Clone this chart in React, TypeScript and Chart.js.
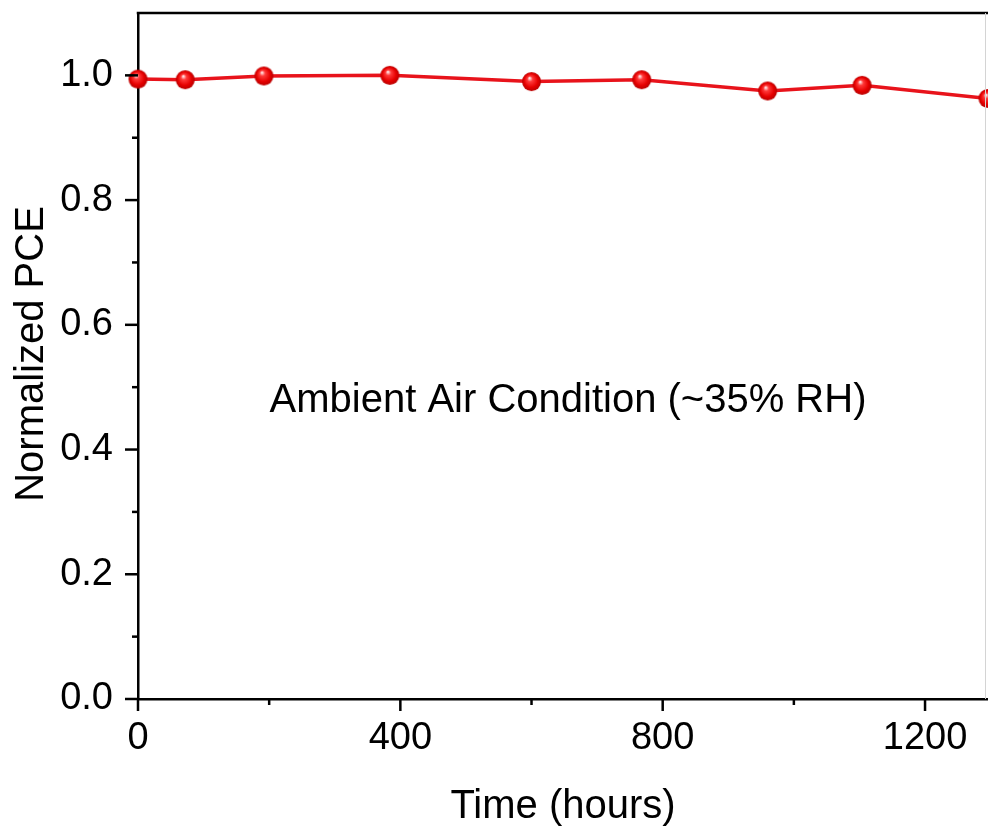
import React, { useEffect, useRef } from 'react';
import { Chart, registerables } from 'chart.js';

Chart.register(...registerables);

// ---- data ----
const hours = [0, 72, 192, 384, 600, 768, 960, 1104, 1296];
const normalizedPCE = [0.994, 0.993, 0.999, 1.0, 0.99, 0.993, 0.975, 0.984, 0.963];
const xTickValues = [0, 200, 400, 600, 800, 1000, 1200];
const xLabelValues = [0, 400, 800, 1200];
const yTickValues = [0, 0.1, 0.2, 0.3, 0.4, 0.5, 0.6, 0.7, 0.8, 0.9, 1.0];
const yLabelValues = [0, 0.2, 0.4, 0.6, 0.8, 1.0];
const xTitle = 'Time (hours)';
const yTitle = 'Normalized PCE';
const annotationText = 'Ambient Air Condition (~35% RH)';

const FONT = '"Liberation Sans", Arial, Helvetica, sans-serif';
const RED = '#e8131b';

function makeSphere(): HTMLCanvasElement {
  const size = 21;
  const c = document.createElement('canvas');
  c.width = size;
  c.height = size;
  const g = c.getContext('2d')!;
  const r = 9.5;
  const cx = size / 2;
  const cy = size / 2;
  const grad = g.createRadialGradient(cx - 2, cy - 3.5, 0.5, cx, cy, r);
  grad.addColorStop(0, '#ffe6e6');
  grad.addColorStop(0.25, '#ff3a3a');
  grad.addColorStop(0.7, '#e60000');
  grad.addColorStop(1, '#b80000');
  g.fillStyle = grad;
  g.beginPath();
  g.arc(cx, cy, r, 0, Math.PI * 2);
  g.fill();
  return c;
}

const isIn = (arr: number[], v: number) => arr.some((a) => Math.abs(a - v) < 1e-6);

const decorPlugin = {
  id: 'decor',
  afterDraw(chart: any) {
    const { ctx, chartArea, scales } = chart;
    const xs = scales.x;
    const ys = scales.y;
    ctx.save();
    ctx.strokeStyle = '#000';
    ctx.lineWidth = 2.5;
    // top frame line
    ctx.beginPath();
    ctx.moveTo(chartArea.left - 1.25, chartArea.top);
    ctx.lineTo(chartArea.right, chartArea.top);
    ctx.stroke();
    // x ticks
    xTickValues.forEach((v) => {
      const px = xs.getPixelForValue(v);
      const len = isIn(xLabelValues, v) ? 12 : 6;
      ctx.beginPath();
      ctx.moveTo(px, chartArea.bottom);
      ctx.lineTo(px, chartArea.bottom + len);
      ctx.stroke();
    });
    // y ticks
    yTickValues.forEach((v) => {
      const py = ys.getPixelForValue(v);
      const len = isIn(yLabelValues, v) ? 13 : 6;
      ctx.beginPath();
      ctx.moveTo(chartArea.left, py);
      ctx.lineTo(chartArea.left - len, py);
      ctx.stroke();
    });
    // faint right edge
    ctx.strokeStyle = '#d4d4d4';
    ctx.lineWidth = 1;
    ctx.beginPath();
    ctx.moveTo(chartArea.right - 2.5, chartArea.top);
    ctx.lineTo(chartArea.right - 2.5, chartArea.bottom);
    ctx.stroke();

    // titles
    ctx.fillStyle = '#000';
    ctx.font = `40px ${FONT}`;
    ctx.textAlign = 'center';
    ctx.textBaseline = 'alphabetic';
    ctx.fillText(xTitle, (chartArea.left + chartArea.right) / 2, 818);

    ctx.save();
    ctx.translate(43, 354);
    ctx.rotate(-Math.PI / 2);
    ctx.fillText(yTitle, 0, 0);
    ctx.restore();

    ctx.fillText(annotationText, 568, 412);
    ctx.restore();
  },
};

const zeroPadding = (scale: any) => {
  scale.paddingLeft = 0;
  scale.paddingRight = 0;
  scale.paddingTop = 0;
  scale.paddingBottom = 0;
};

export default function App() {
  const ref = useRef<HTMLCanvasElement | null>(null);

  useEffect(() => {
    if (!ref.current) return;
    const sphere = makeSphere();
    const chart = new Chart(ref.current, {
      type: 'line',
      data: {
        datasets: [
          {
            data: hours.map((h, i) => ({ x: h, y: normalizedPCE[i] })),
            borderColor: RED,
            borderWidth: 3.5,
            backgroundColor: RED,
            pointStyle: sphere as any,
            pointRadius: 10,
            pointHoverRadius: 10,
            tension: 0,
            clip: false as any,
          },
        ],
      },
      options: {
        responsive: false,
        devicePixelRatio: 1,
        animation: false,
        layout: { autoPadding: false, padding: { top: 13, right: 0, left: 0, bottom: 0 } },
        plugins: {
          legend: { display: false },
          tooltip: { enabled: false },
        },
        scales: {
          x: {
            type: 'linear',
            min: 0,
            max: 1296,
            grid: { display: false, drawTicks: false },
            border: { display: true, color: '#000', width: 2.5 },
            afterBuildTicks: (scale: any) => {
              scale.ticks = xTickValues.map((v) => ({ value: v }));
            },
            ticks: {
              autoSkip: false,
              maxRotation: 0,
              padding: 17,
              color: '#000',
              font: { size: 38, family: FONT },
              callback: (v: any) => (isIn(xLabelValues, Number(v)) ? String(v) : ''),
            },
            afterFit: (scale: any) => {
              scale.height = 131;
              zeroPadding(scale);
            },
          },
          y: {
            type: 'linear',
            min: 0,
            max: 1.1,
            grid: { display: false, drawTicks: false },
            border: { display: true, color: '#000', width: 2.5 },
            afterBuildTicks: (scale: any) => {
              scale.ticks = yTickValues.map((v) => ({ value: v }));
            },
            ticks: {
              autoSkip: false,
              padding: 25,
              color: '#000',
              font: { size: 38, family: FONT },
              callback: (v: any) => (isIn(yLabelValues, Number(v)) ? Number(v).toFixed(1) : ''),
            },
            afterFit: (scale: any) => {
              scale.width = 138;
              zeroPadding(scale);
            },
          },
        },
      },
      plugins: [decorPlugin],
    });
    return () => chart.destroy();
  }, []);

  return (
    <div style={{ position: 'absolute', left: 0, top: 0, width: 988, height: 830, background: '#fff' }}>
      <canvas ref={ref} width={988} height={830} />
    </div>
  );
}
